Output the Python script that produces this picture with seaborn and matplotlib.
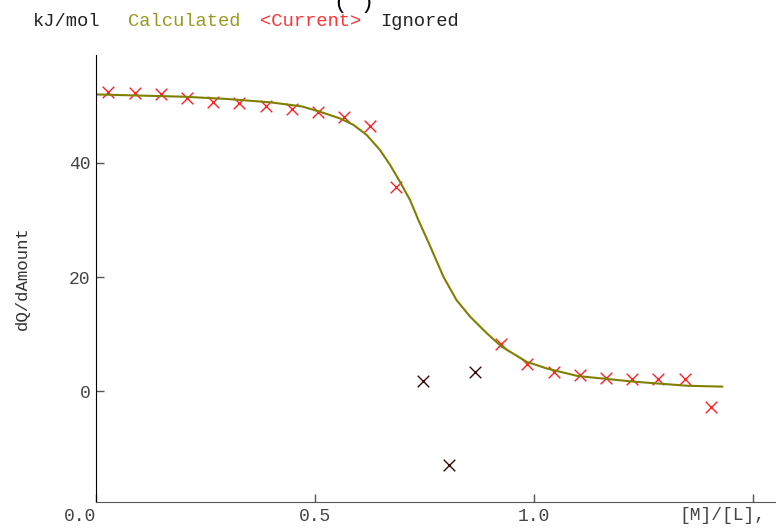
import matplotlib.pyplot as plt
import pandas as pd
import seaborn as sns

# Injection data (molar ratio vs heat)
ratio = [0.028, 0.088, 0.148, 0.207, 0.267, 0.327, 0.387, 0.447, 0.506, 0.566,
         0.626, 0.686, 0.746, 0.805, 0.865, 0.925, 0.985, 1.045, 1.104, 1.164,
         1.224, 1.284, 1.344, 1.403]
heat = [52.5, 52.2, 52.1, 51.3, 50.6, 50.5, 50.0, 49.4, 49.0, 48.1,
        46.4, 35.8, 1.85, -12.9, 3.4, 8.3, 4.76, 3.36, 2.9, 2.3,
        2.25, 2.2, 2.2, -2.8]
ignored = [False] * 12 + [True, True, True] + [False] * 9

# Fitted curve
fit_x = [0.0, 0.1, 0.2, 0.3, 0.4, 0.47, 0.51, 0.557, 0.587, 0.618, 0.648, 0.671,
         0.694, 0.717, 0.736, 0.763, 0.793, 0.823, 0.854, 0.892, 0.926, 0.983,
         1.03, 1.1, 1.23, 1.35, 1.43]
fit_y = [52.0, 51.8, 51.6, 51.2, 50.6, 49.9, 49.0, 47.8, 46.7, 44.9, 42.3, 39.7,
         36.7, 33.5, 30.0, 25.4, 20.1, 16.0, 13.1, 10.2, 7.85, 5.2,
         4.0, 2.7, 1.7, 1.0, 0.85]

tick_pos = [0.0, 0.5, 1.0, 1.5]
tick_labels = ['0.0', '0.5', '1.0', '']
ytick_pos = [0, 20, 40]

points = pd.DataFrame({'ratio': ratio, 'heat': heat, 'ignored': ignored})

sns.set_style('white')
plt.rcParams['font.family'] = ['Liberation Mono', 'DejaVu Sans Mono']

fig = plt.figure(figsize=(7.81, 5.31), dpi=100)
ax = fig.add_axes([0.1229, 0.0546, 0.8694, 0.8418])

sns.lineplot(x=fit_x, y=fit_y, color='#808000', linewidth=1.5, ax=ax)
sns.scatterplot(data=points[~points['ignored']], x='ratio', y='heat', marker='x',
                color='#ff2020', s=70, linewidth=1.0, ax=ax)
sns.scatterplot(data=points[points['ignored']], x='ratio', y='heat', marker='x',
                color='#3a0808', s=70, linewidth=1.0, ax=ax)

ax.set_xlim(0, 1.55)
ax.set_ylim(-19.35, 58.9)
ax.set_xticks(tick_pos)
ax.set_xticklabels(tick_labels)
ax.get_xticklabels()[0].set_horizontalalignment('right')
ax.set_yticks(ytick_pos)
ax.set_xlabel('')
ax.set_ylabel('dQ/dAmount', fontsize=12.5, color='#333333', labelpad=28)
ax.tick_params(axis='both', direction='in', length=6, width=1, colors='#555555',
               labelcolor='#444444', labelsize=13, pad=4, bottom=True, left=True)
ax.tick_params(axis='x', pad=4)

for side in ['top', 'right']:
    ax.spines[side].set_visible(False)
ax.spines['left'].set_color('black')
ax.spines['bottom'].set_color('#555555')

ax.text(1.527, -0.012, '[M]/[L],', transform=ax.get_xaxis_transform(),
        ha='right', va='top', fontsize=13, color='#444444')

# header legend
fig.text(33 / 781, 1 - 22 / 531, 'kJ/mol', fontsize=13.5, color='#222222', va='center')
fig.text(128 / 781, 1 - 22 / 531, 'Calculated', fontsize=13.5, color='#999922', va='center')
fig.text(260 / 781, 1 - 22 / 531, '<Current>', fontsize=13.5, color='#ff3333', va='center')
fig.text(380 / 781, 1 - 22 / 531, 'Ignored', fontsize=13.5, color='#222222', va='center')
fig.text(354 / 781, 0.995, '( )', fontsize=16, color='black', ha='center', va='center')

fig.savefig('out.png', dpi=100)
